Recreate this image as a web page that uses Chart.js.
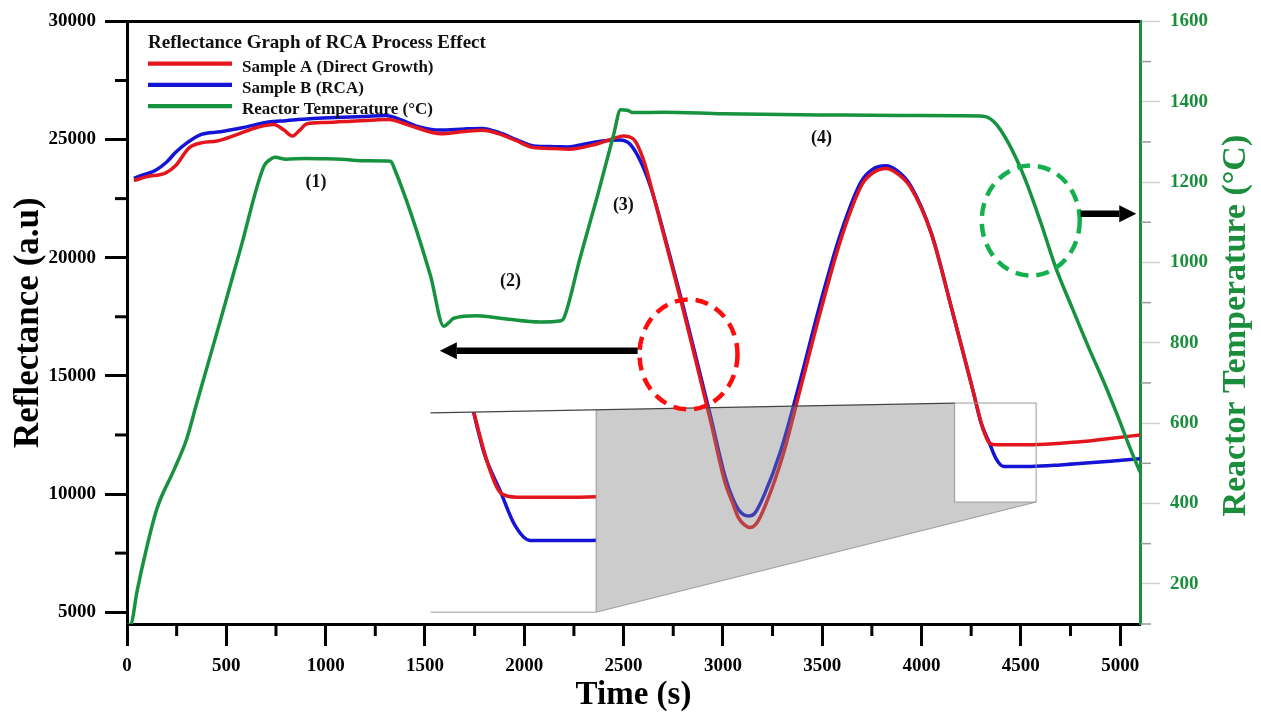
<!DOCTYPE html>
<html><head><meta charset="utf-8">
<script src="https://cdn.jsdelivr.net/npm/chart.js@4.4.1/dist/chart.umd.min.js"></script>
<style>html,body{margin:0;padding:0;background:#fff;}#wrap{width:1261px;height:715px;position:relative;}</style>
</head><body><div id="wrap"><canvas id="c"></canvas></div>
<script>
// ---- data ----
const timeA = [35,100,193,244,314,380,453,550,640,700,740,790,833,870,904,1000,1150,1250,1320,1380,1458,1579,1700,1788,1870,1960,2047,2150,2222,2350,2450,2499,2551,2600,2644,2731,2800,2870,2939,3009,3050,3078,3110,3138,3170,3216,3303,3390,3494,3598,3702,3760,3823,3880,3945,4049,4153,4257,4309,4343,4380,4535,4700,4811,4950,5100];
const sampleA = [23260,23430,23580,23890,24660,24870,24940,25200,25480,25600,25640,25400,25150,25400,25660,25720,25790,25830,25850,25720,25500,25250,25340,25390,25250,24950,24660,24620,24590,24780,25050,25150,25010,24150,22840,20050,17810,15430,13050,10540,9600,9000,8680,8580,8760,9560,11660,14450,17810,20880,23120,23620,23780,23550,22980,21030,17810,14450,12780,12150,12080,12080,12150,12220,12350,12500];
const timeB = [35,80,140,200,244,300,375,471,580,713,800,921,1050,1200,1302,1354,1410,1458,1579,1700,1788,1875,1960,2047,2150,2222,2300,2395,2481,2533,2590,2640,2731,2800,2870,2939,3009,3050,3078,3105,3129,3160,3205,3290,3380,3485,3590,3695,3755,3820,3880,3945,4049,4153,4257,4300,4340,4375,4413,4550,4700,4811,4950,5100];
const sampleB = [23360,23500,23680,24050,24450,24850,25220,25330,25500,25740,25800,25880,25930,25980,26020,25920,25730,25570,25400,25450,25470,25290,25000,24730,24700,24690,24800,24940,24980,24800,24000,22900,20150,17950,15600,13250,10800,9800,9350,9120,9070,9180,9900,11800,14500,17900,20950,23200,23750,23890,23660,23050,21050,17810,14450,13000,12200,11500,11170,11170,11230,11300,11390,11490];
const timeT = [0,20,50,102,152,236,300,353,471,572,689,720,745,800,900,1000,1100,1200,1327,1345,1528,1595,1620,1645,1763,1900,2082,2185,2200,2283,2368,2450,2485,2520,2545,2700,3000,3290,3600,3895,4200,4310,4345,4378,4440,4517,4600,4673,4760,4846,4920,4985,5050,5100];
const temperature = [97,100,180,296,389,483,560,653,857,1035,1239,1256,1262,1257,1259,1258,1256,1253,1252,1235,967,841,850,861,867,860,852,855,862,1015,1165,1318,1380,1379,1373,1374,1370,1368,1367,1366,1365,1364,1358,1343,1295,1213,1100,991,885,783,700,621,538,478];

const seriesLabels = ['Sample A (Direct Growth)','Sample B (RCA)','Reactor Temperature (°C)'];
const legendTitle = 'Reflectance Graph of RCA Process Effect';
const xTitle = 'Time (s)';
const yTitle = 'Reflectance (a.u)';
const y2Title = 'Reactor Temperature (°C)';

// axis ranges and ticks
const xRange = [0, 5100];
const xTicks = [0,500,1000,1500,2000,2500,3000,3500,4000,4500,5000];
const xMinorTicks = [250,750,1250,1750,2250,2750,3250,3750,4250,4750];
const yRange = [4500, 30000];
const yTicks = [5000,10000,15000,20000,25000,30000];
const yMinorTicks = [7500,12500,17500,22500,27500];
const y2Range = [100, 1600];
const y2Ticks = [200,400,600,800,1000,1200,1400,1600];
const y2MinorTicks = [100,300,500,700,900,1100,1300,1500];

// annotations (data coordinates)
const noteTexts = ['(1)','(2)','(3)','(4)'];
const noteTime = [952,1931,2499,3497];
const noteRefl = [23206,18990,22212,25072];
const circleTime = [2827,4550];
const circleRefl = [15908,21570];
const arrowFrom = [2571,4801];
const arrowTo = [1575,5081];
const arrowRefl = [16063,21864];
// zoom inset: source window and where it is shown (data coordinates)
const insetSrcTime = [4167,4577], insetSrcRefl = [9660,13850];
const insetDstTime = [1528,2362], insetDstRefl = [5000,13430];

// ---- style ----
const FONT = "'Liberation Serif','Times New Roman',serif";
const RED = '#e4161d', BLUE = '#1414d6', GREEN = '#179340', GREEN_AX = '#1b8e3c';
const circleColors = ['#ff0b0b', '#14b04e'];

const pts = (xs, ys) => xs.map((x, i) => ({x, y: ys[i]}));
const setTicks = vals => s => { s.ticks = vals.map(v => ({value: v})); };
function hiddenRange(mainR, src, dst) {
  const k = (src[1] - src[0]) / (dst[1] - dst[0]);
  return {min: src[0] + (mainR[0] - dst[0]) * k, max: src[0] + (mainR[1] - dst[0]) * k};
}
const xiR = hiddenRange(xRange, insetSrcTime, insetDstTime);
const yiR = hiddenRange(yRange, insetSrcRefl, insetDstRefl);

function insetGeom(chart) {
  const {x, y} = chart.scales;
  const dL = x.getPixelForValue(insetDstTime[0]), dR = x.getPixelForValue(insetDstTime[1]);
  const dT = y.getPixelForValue(insetDstRefl[1]), dB = y.getPixelForValue(insetDstRefl[0]);
  const sL = x.getPixelForValue(insetSrcTime[0]), sR = x.getPixelForValue(insetSrcTime[1]);
  const sT = y.getPixelForValue(insetSrcRefl[1]), sB = y.getPixelForValue(insetSrcRefl[0]);
  const topAtDR = dT + (sT - dT) * (dR - dL) / (sL - dL);
  return {dL, dR, dT, dB, sL, sR, sT, sB, topAtDR};
}

const insetClip = {
  id: 'insetClip',
  beforeDatasetDraw(chart, args) {
    const ds = chart.data.datasets[args.index];
    if (!ds.inset) return;
    const g = insetGeom(chart), ctx = chart.ctx;
    ctx.save();
    ctx.beginPath();
    ctx.moveTo(g.dL, g.dT); ctx.lineTo(g.dR, g.topAtDR); ctx.lineTo(g.dR, g.dB); ctx.lineTo(g.dL, g.dB);
    ctx.closePath(); ctx.clip();
  },
  afterDatasetDraw(chart, args) {
    if (chart.data.datasets[args.index].inset) chart.ctx.restore();
  }
};

const decor = {
  id: 'decor',
  afterDatasetsDraw(chart) {
    const {ctx, scales: {x, y}} = chart;
    const g = insetGeom(chart);
    ctx.save();
    // gray magnification wedge
    ctx.beginPath();
    ctx.moveTo(g.dR, g.topAtDR); ctx.lineTo(g.sL, g.sT); ctx.lineTo(g.sL, g.sB); ctx.lineTo(g.sR, g.sB); ctx.lineTo(g.dR, g.dB);
    ctx.closePath();
    ctx.fillStyle = 'rgba(128,128,128,0.4)';
    ctx.fill();
    // lines
    ctx.lineWidth = 1; ctx.strokeStyle = '#9a9a9a';
    ctx.beginPath(); ctx.moveTo(g.dR, g.topAtDR); ctx.lineTo(g.dR, g.dB); ctx.lineTo(g.dL, g.dB); ctx.stroke();
    ctx.beginPath(); ctx.moveTo(g.dR, g.dB); ctx.lineTo(g.sR, g.sB); ctx.stroke();
    ctx.strokeRect(g.sL, g.sT, g.sR - g.sL, g.sB - g.sT);
    ctx.strokeStyle = '#444'; ctx.lineWidth = 1.3;
    ctx.beginPath(); ctx.moveTo(g.dL, g.dT); ctx.lineTo(g.sL, g.sT); ctx.stroke();
    // dashed circles
    ctx.lineWidth = 4.5; ctx.setLineDash([13, 8]);
    circleTime.forEach((t, i) => {
      ctx.strokeStyle = circleColors[i];
      ctx.beginPath();
      ctx.ellipse(x.getPixelForValue(t), y.getPixelForValue(circleRefl[i]), 49, 55, 0, 0, Math.PI * 2);
      ctx.stroke();
    });
    ctx.setLineDash([]);
    // arrows
    ctx.fillStyle = '#000'; ctx.strokeStyle = '#000'; ctx.lineWidth = 6.5;
    arrowFrom.forEach((t, i) => {
      const x0 = x.getPixelForValue(t), x1 = x.getPixelForValue(arrowTo[i]), py = y.getPixelForValue(arrowRefl[i]);
      const dir = Math.sign(x1 - x0), head = 17;
      ctx.beginPath(); ctx.moveTo(x0, py); ctx.lineTo(x1 - dir * head, py); ctx.stroke();
      ctx.beginPath(); ctx.moveTo(x1, py); ctx.lineTo(x1 - dir * head, py - 8.5); ctx.lineTo(x1 - dir * head, py + 8.5); ctx.closePath(); ctx.fill();
    });
    // labels (1)..(4)
    ctx.font = `bold 18px ${FONT}`; ctx.textAlign = 'center'; ctx.textBaseline = 'middle'; ctx.fillStyle = '#111';
    noteTexts.forEach((s, i) => ctx.fillText(s, x.getPixelForValue(noteTime[i]), y.getPixelForValue(noteRefl[i])));
    ctx.restore();
  },
  afterDraw(chart) {
    const {ctx, chartArea: a, scales: {x, y, yR}} = chart;
    ctx.save();
    // top frame line
    ctx.strokeStyle = '#000'; ctx.lineWidth = 3;
    ctx.beginPath(); ctx.moveTo(a.left - 1.5, a.top); ctx.lineTo(a.right, a.top); ctx.stroke();
    // minor ticks
    ctx.lineWidth = 3;
    xMinorTicks.forEach(v => {
      const px = x.getPixelForValue(v);
      ctx.beginPath(); ctx.moveTo(px, a.bottom); ctx.lineTo(px, a.bottom + 12); ctx.stroke();
    });
    yMinorTicks.forEach(v => {
      const py = y.getPixelForValue(v);
      ctx.beginPath(); ctx.moveTo(a.left, py); ctx.lineTo(a.left - 12, py); ctx.stroke();
    });
    ctx.strokeStyle = '#9a9a9a'; ctx.lineWidth = 1.5;
    y2MinorTicks.forEach(v => {
      const py = yR.getPixelForValue(v);
      ctx.beginPath(); ctx.moveTo(a.right + 1, py); ctx.lineTo(a.right + 11, py); ctx.stroke();
    });
    // right axis title (reads bottom to top)
    ctx.fillStyle = GREEN_AX;
    ctx.font = `bold 34px ${FONT}`;
    ctx.translate(a.right + 105, (a.top + a.bottom) / 2 + 3);
    ctx.rotate(-Math.PI / 2);
    ctx.textAlign = 'center'; ctx.textBaseline = 'alphabetic';
    ctx.fillText(y2Title, 0, 0);
    ctx.setTransform(1, 0, 0, 1, 0, 0);
    // legend
    const lx = a.left + 21;
    ctx.fillStyle = '#111'; ctx.textAlign = 'left'; ctx.textBaseline = 'alphabetic';
    ctx.font = `bold 19px ${FONT}`;
    ctx.fillText(legendTitle, lx, a.top + 26.7);
    ctx.font = `bold 17px ${FONT}`;
    const dsets = chart.data.datasets;
    [0, 1, 2].forEach(i => {
      const ly = a.top + 42.3 + i * 21.2;
      ctx.strokeStyle = dsets[i].borderColor; ctx.lineWidth = 4.3;
      ctx.beginPath(); ctx.moveTo(lx, ly); ctx.lineTo(lx + 84, ly); ctx.stroke();
      ctx.fillStyle = '#111';
      ctx.fillText(dsets[i].label, lx + 94, ly + 8.3);
    });
    ctx.restore();
  }
};

const tickFont = {family: FONT, size: 19, weight: 'bold'};
new Chart(document.getElementById('c'), {
  type: 'line',
  data: {datasets: [
    {label: seriesLabels[0], data: pts(timeA, sampleA), borderColor: RED, xAxisID: 'x', yAxisID: 'y', order: 1},
    {label: seriesLabels[1], data: pts(timeB, sampleB), borderColor: BLUE, xAxisID: 'x', yAxisID: 'y', order: 2},
    {label: seriesLabels[2], data: pts(timeT, temperature), borderColor: GREEN, xAxisID: 'x', yAxisID: 'yR', order: 0},
    {label: 'insetA', data: pts(timeA, sampleA), borderColor: RED, xAxisID: 'xi', yAxisID: 'yi', order: 3, inset: true, clip: false},
    {label: 'insetB', data: pts(timeB, sampleB), borderColor: BLUE, xAxisID: 'xi', yAxisID: 'yi', order: 4, inset: true, clip: false}
  ]},
  options: {
    responsive: true, maintainAspectRatio: false, animation: false, devicePixelRatio: 1,
    layout: {padding: {top: 16, left: 0, right: 0, bottom: 0}},
    plugins: {legend: {display: false}, tooltip: {enabled: false}},
    elements: {point: {radius: 0}, line: {borderWidth: 3.5, cubicInterpolationMode: 'monotone'}},
    scales: {
      x: {type: 'linear', position: 'bottom', min: xRange[0], max: xRange[1],
        afterBuildTicks: setTicks(xTicks),
        afterFit: s => { s.height = 91; },
        ticks: {color: '#000', font: tickFont, padding: 9, maxRotation: 0, autoSkip: false, callback: v => String(v)},
        grid: {drawOnChartArea: false, drawTicks: true, tickLength: 22, tickWidth: 3, tickColor: '#000'},
        border: {display: true, color: '#000', width: 3},
        title: {display: true, text: xTitle, color: '#000', font: {family: FONT, size: 33, weight: 'bold', lineHeight: 1}, padding: {top: 0, bottom: 3}}},
      y: {type: 'linear', position: 'left', min: yRange[0], max: yRange[1],
        afterBuildTicks: setTicks(yTicks),
        afterFit: s => { s.width = 127; },
        ticks: {color: '#000', font: tickFont, padding: 9, autoSkip: false, callback: v => String(v)},
        grid: {drawOnChartArea: false, drawTicks: true, tickLength: 22, tickWidth: 3, tickColor: '#000'},
        border: {display: true, color: '#000', width: 3},
        title: {display: true, text: yTitle, color: '#000', font: {family: FONT, size: 35, weight: 'bold', lineHeight: 1}, padding: {top: 11, bottom: 0}}},
      yR: {type: 'linear', position: 'right', min: y2Range[0], max: y2Range[1],
        afterBuildTicks: setTicks(y2Ticks),
        afterFit: s => { s.width = 121; },
        ticks: {color: GREEN_AX, font: tickFont, padding: 10, autoSkip: false, callback: v => String(v)},
        grid: {drawOnChartArea: false, drawTicks: true, tickLength: 20, tickWidth: 1.5, tickColor: '#cfcfcf'},
        border: {display: true, color: GREEN_AX, width: 3}},
      xi: {type: 'linear', display: false, min: xiR.min, max: xiR.max},
      yi: {type: 'linear', display: false, min: yiR.min, max: yiR.max}
    }
  },
  plugins: [insetClip, decor]
});
</script></body></html>
